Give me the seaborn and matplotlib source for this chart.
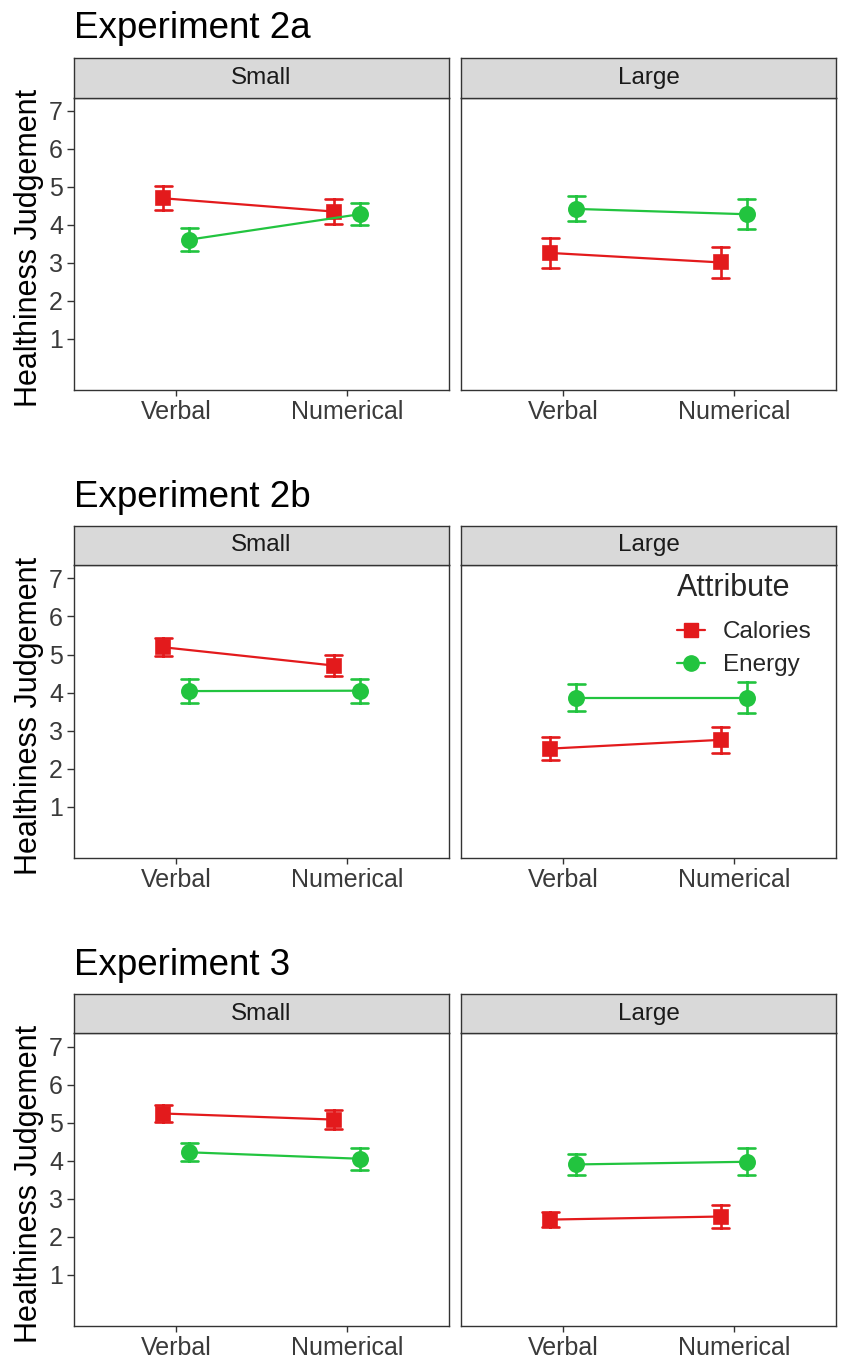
import numpy as np
import pandas as pd
import matplotlib
matplotlib.use("Agg")
import matplotlib.pyplot as plt
from matplotlib.lines import Line2D
import seaborn as sns

# ---------------- data ----------------
experiments = ["Experiment 2a", "Experiment 2b", "Experiment 3"]
sizes = ["Small", "Large"]
formats = ["Verbal", "Numerical"]
attributes = ["Calories", "Energy"]
y_ticks = [1, 2, 3, 4, 5, 6, 7]

# means: [experiment][size][format]
calories_mean = [
    [[4.70, 4.35], [3.26, 3.01]],
    [[5.19, 4.71], [2.53, 2.76]],
    [[5.24, 5.08], [2.45, 2.53]],
]
calories_err = [
    [[0.32, 0.32], [0.39, 0.42]],
    [[0.24, 0.27], [0.30, 0.34]],
    [[0.235, 0.26], [0.20, 0.30]],
]
energy_mean = [
    [[3.61, 4.28], [4.42, 4.28]],
    [[4.04, 4.05], [3.87, 3.87]],
    [[4.22, 4.05], [3.90, 3.97]],
]
energy_err = [
    [[0.30, 0.29], [0.33, 0.39]],
    [[0.32, 0.31], [0.35, 0.40]],
    [[0.24, 0.29], [0.28, 0.35]],
]

# Build a long table: each cell is represented by its lower and upper bound,
# so that the mean is the centre and the 100% interval spans the error bar.
rows = []
for ei, exp in enumerate(experiments):
    for si, size in enumerate(sizes):
        for fi, fmt in enumerate(formats):
            for attr, means, errs in (("Calories", calories_mean, calories_err),
                                      ("Energy", energy_mean, energy_err)):
                m = means[ei][si][fi]
                e = errs[ei][si][fi]
                for v in (m - e, m + e):
                    rows.append(dict(experiment=exp, size=size, format=fmt,
                                     Attribute=attr, value=v))
df = pd.DataFrame(rows)

# ---------------- style ----------------
sns.set_theme(style="white")
plt.rcParams["font.family"] = ["Liberation Sans", "DejaVu Sans"]

RED = "#E31A1C"
GREEN = "#22C43F"
palette = {"Calories": RED, "Energy": GREEN}
DARK = "#333333"
TICKTXT = "#3A3A3A"
STRIP = "#D9D9D9"

W, H = 841, 1357
fig = plt.figure(figsize=(W / 100, H / 100), dpi=100)
fig.patch.set_facecolor("white")

panel_x = [(74, 449), (461, 836)]
panel_y = [(97.7, 390), (565, 858.3), (1033.3, 1326)]
strip_h = 39.5
title_baseline = [38, 506.7, 975]


def fx(px):
    return px / W


def fy(py):
    return 1 - py / H


for ei, exp in enumerate(experiments):
    top, bot = panel_y[ei]
    fig.text(fx(74), fy(title_baseline[ei]), exp, fontsize=26.5,
             ha="left", va="baseline", color="black")
    fig.text(fx(29), fy((top + bot) / 2 + 4), "Healthiness Judgement",
             rotation=90, fontsize=22, ha="center", va="center", color="black")
    for si, size in enumerate(sizes):
        x0, x1 = panel_x[si]
        ax = fig.add_axes([fx(x0), fy(bot), (x1 - x0) / W, (bot - top) / H])
        sub = df[(df.experiment == exp) & (df["size"] == size)]
        show_legend = (ei == 1 and si == 1)
        sns.pointplot(data=sub, x="format", y="value", hue="Attribute",
                      order=formats, hue_order=attributes, palette=palette,
                      estimator="mean", errorbar=("pi", 100), capsize=0.1,
                      dodge=0.15, markers=["s", "o"], linestyles="-",
                      err_kws={"linewidth": 1.9}, linewidth=1.6,
                      ax=ax, legend=show_legend)
        for ln in ax.lines:
            mk = ln.get_marker()
            if mk == "s":
                ln.set_markersize(9.5)
            elif mk == "o":
                ln.set_markersize(11)
        ax.set_xlim(-0.6, 1.6)
        ax.set_ylim(-0.35, 7.35)
        ax.set_xlabel("")
        ax.set_ylabel("")
        ax.set_yticks(y_ticks)
        ax.set_facecolor("white")
        for sp in ax.spines.values():
            sp.set_visible(True)
            sp.set_color(DARK)
            sp.set_linewidth(1.0)
        ax.tick_params(axis="x", bottom=True, length=4, width=1, color=DARK,
                       labelsize=18, labelcolor=TICKTXT, pad=3)
        if si == 0:
            ax.tick_params(axis="y", left=True, length=5, width=1, color=DARK,
                           labelsize=18, labelcolor=TICKTXT, pad=3)
        else:
            ax.tick_params(axis="y", left=False, labelleft=False)
        if show_legend:
            handles = [Line2D([0], [0], color=RED, marker="s", markersize=9.5,
                              linewidth=1.6),
                       Line2D([0], [0], color=GREEN, marker="o", markersize=11,
                              linewidth=1.6)]
            leg = ax.legend(handles, attributes, title="Attribute",
                            frameon=False, fontsize=17.5, title_fontsize=22,
                            loc="upper left",
                            bbox_to_anchor=((660 - x0) / (x1 - x0), 1.03),
                            handlelength=1.15, handletextpad=0.75,
                            labelspacing=0.45, borderaxespad=0.3)
            leg._legend_box.align = "left"
            leg._legend_box.sep = 13
        # strip
        sax = fig.add_axes([fx(x0), fy(top), (x1 - x0) / W, strip_h / H])
        sax.set_facecolor(STRIP)
        sax.set_xticks([])
        sax.set_yticks([])
        for sp in sax.spines.values():
            sp.set_visible(True)
            sp.set_color(DARK)
            sp.set_linewidth(1.0)
        sax.text(0.5, 0.5, size, ha="center", va="center", fontsize=17.5,
                 color="#1A1A1A", transform=sax.transAxes)

fig.savefig("out.png", dpi=100, facecolor="white")
